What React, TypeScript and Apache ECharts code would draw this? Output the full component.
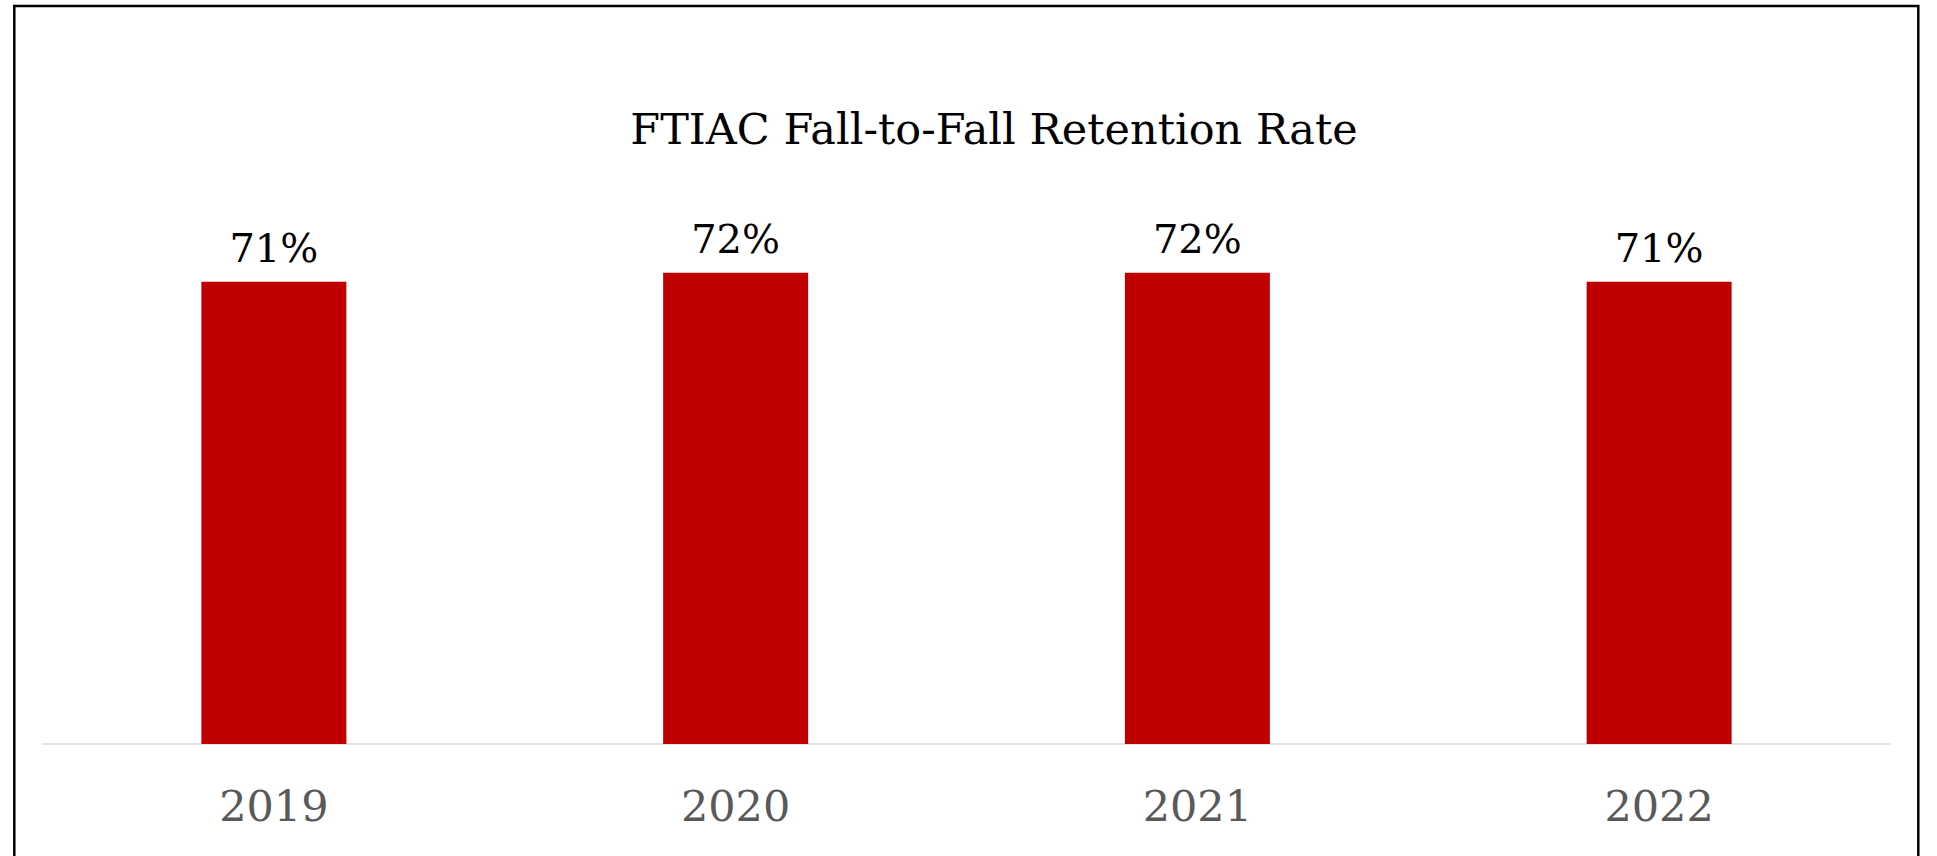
import React, { useEffect, useRef } from "react";
import * as echarts from "echarts";

const categories = ["2019", "2020", "2021", "2022"];
const retention = [0.708, 0.722, 0.722, 0.708];
const titleText = "FTIAC Fall-to-Fall Retention Rate";

const FONT = "'DejaVu Serif', Georgia, serif";

export default function App() {
  const ref = useRef<HTMLDivElement>(null);
  useEffect(() => {
    if (!ref.current) return;
    const chart = echarts.init(ref.current, undefined, { renderer: "svg" });
    chart.setOption({
      animation: false,
      backgroundColor: "#ffffff",
      grid: { left: 43, right: 47, top: 221.8, bottom: 112, containLabel: false },
      xAxis: {
        type: "category",
        data: categories,
        axisLine: { show: true, lineStyle: { color: "#d9d9d9", width: 1.5 } },
        axisTick: { show: false },
        axisLabel: {
          color: "#595959",
          fontFamily: FONT,
          fontSize: 43,
          margin: 40,
        },
      },
      yAxis: {
        type: "value",
        min: 0,
        max: 0.8,
        show: false,
        splitLine: { show: false },
      },
      series: [
        {
          type: "bar",
          data: retention,
          barWidth: 145,
          itemStyle: { color: "#c00000" },
          label: {
            show: true,
            position: "top",
            distance: 14,
            color: "#000000",
            fontFamily: FONT,
            fontSize: 40,
            formatter: (p: any) => Math.round(p.value * 100) + "%",
          },
        },
      ],
      graphic: [
        {
          type: "rect",
          shape: { x: 14.3, y: 6, width: 1904, height: 900 },
          style: { fill: "none", stroke: "#000000", lineWidth: 2.5 },
          silent: true,
        },
        {
          type: "text",
          x: 994,
          y: 129,
          style: {
            text: titleText,
            fontFamily: FONT,
            fontSize: 43,
            fill: "#000000",
            textAlign: "center",
            textVerticalAlign: "middle",
          },
        },
      ],
    });
    return () => chart.dispose();
  }, []);
  return (
    <div
      ref={ref}
      style={{ position: "fixed", left: 0, top: 0, width: 1937, height: 856 }}
    />
  );
}
